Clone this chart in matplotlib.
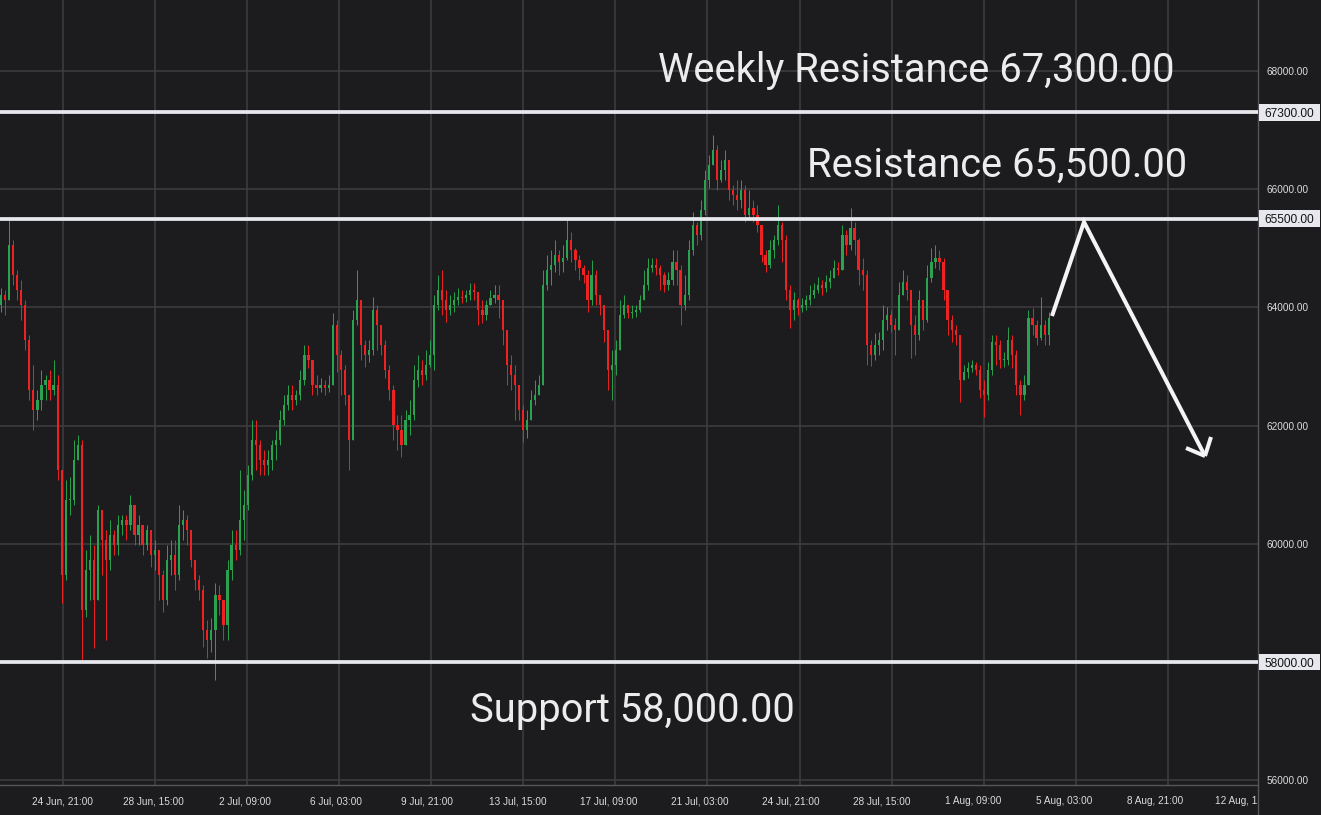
import matplotlib
matplotlib.use('Agg')
import numpy as np
import pandas as pd
import matplotlib.pyplot as plt
import matplotlib.dates as mdates
from matplotlib.patches import Rectangle
from matplotlib.lines import Line2D
from matplotlib.ticker import FixedLocator, FuncFormatter

# 4h candles, first one at 22 Jun 2024 08:00
start_time = '2024-06-22 08:00'
first_open = 64040

close = [64210, 64120, 65050, 64550, 64290, 64040, 63450, 62600, 62260, 62430,
         62690, 62770, 62600, 62690, 61250, 59470, 60740, 60740, 61420, 61670,
         58880, 59560, 59720, 59050, 60570, 60060, 59720, 60150, 59980, 60320,
         60400, 60320, 60660, 60150, 60320, 59980, 60230, 59810, 59890, 59470,
         59050, 59720, 59810, 59470, 60320, 60400, 60230, 59720, 59390, 59220,
         58540, 58370, 58540, 59130, 59050, 58630, 59560, 59980, 59890, 60400,
         60660, 61160, 61760, 61670, 61420, 61330, 61420, 61670, 61760, 62090,
         62350, 62520, 62430, 62520, 62770, 63190, 63110, 62690, 62640, 62690,
         62640, 62690, 63700, 63190, 62940, 62520, 61760, 63790, 64120, 63360,
         63190, 63280, 63960, 63700, 63360, 62940, 62600, 62010, 61920, 61670,
         62090, 62180, 62770, 62940, 62850, 63020, 63190, 64040, 64290, 64120,
         63960, 64040, 64120, 64170, 64160, 64210, 64290, 64260, 63960, 63870,
         64040, 64160, 64210, 64120, 63620, 63020, 62850, 62690, 62260, 61920,
         62090, 62430, 62520, 62690, 64380, 64630, 64720, 64890, 64770, 64830,
         65140, 64970, 64800, 64670, 64550, 64120, 64550, 64210, 64040, 63620,
         62940, 63020, 63280, 63870, 64040, 63900, 63920, 63960, 64120, 64380,
         64670, 64720, 64670, 64550, 64380, 64460, 64770, 64630, 64040, 64210,
         64970, 65390, 65220, 65650, 66150, 66410, 66660, 66150, 66320, 66490,
         65990, 65900, 65820, 65990, 65560, 65680, 65560, 65390, 64890, 64720,
         64970, 65140, 65390, 65140, 64290, 63960, 64120, 63990, 64040, 64120,
         64210, 64290, 64380, 64330, 64430, 64500, 64670, 64630, 65220, 65050,
         65340, 65140, 64630, 64550, 63360, 63190, 63360, 63450, 63790, 63870,
         63700, 63620, 64210, 64430, 64290, 63700, 63530, 64120, 63790, 64500,
         64770, 64830, 64770, 64290, 63790, 63620, 63530, 62770, 62910, 62970,
         63020, 62940, 62600, 62520, 62940, 63410, 63360, 63110, 63110, 63450,
         63190, 62690, 62520, 62690, 63820, 63700, 63480, 63700, 63530, 63820]

high = [64330, 64290, 65480, 65140, 64630, 64460, 64120, 63530, 63020, 62600,
        62940, 62850, 62940, 63110, 62850, 61250, 61080, 61130, 61760, 61840,
        61760, 59890, 60150, 59980, 60660, 60490, 60230, 60400, 60230, 60490,
        60490, 60490, 60820, 60660, 60490, 60320, 60320, 60230, 60060, 59890,
        59560, 59980, 60060, 60060, 60660, 60570, 60490, 60230, 59720, 59470,
        59300, 58710, 58740, 59340, 59300, 59050, 59720, 60230, 60230, 61250,
        60910, 61330, 62090, 62090, 61760, 61590, 61590, 61760, 61920, 62260,
        62520, 62690, 62690, 62600, 62940, 63360, 63360, 63020, 62850, 62800,
        62770, 62850, 63900, 63790, 63280, 63020, 62520, 63960, 64630, 64120,
        63450, 63450, 64170, 64040, 63700, 63450, 63020, 62690, 62180, 62180,
        62260, 62430, 63020, 63190, 63110, 63280, 63450, 64210, 64550, 64630,
        64290, 64210, 64260, 64330, 64290, 64290, 64410, 64410, 64210, 64120,
        64120, 64290, 64380, 64380, 64120, 63620, 63190, 63020, 62690, 62350,
        62260, 62600, 62770, 62850, 64630, 64890, 64970, 65140, 64970, 65050,
        65480, 65270, 65000, 64890, 64720, 64630, 64800, 64630, 64210, 63960,
        63450, 63280, 63450, 64120, 64210, 64040, 64040, 64040, 64210, 64630,
        64830, 64830, 64830, 64720, 64600, 64600, 64970, 64970, 64720, 64550,
        65140, 65610, 65440, 65820, 66320, 66580, 66920, 66750, 66490, 66660,
        66490, 66070, 66150, 66150, 66070, 65990, 65820, 65730, 65390, 64970,
        65140, 65220, 65730, 65440, 65220, 64380, 64260, 64160, 64160, 64210,
        64380, 64410, 64510, 64460, 64550, 64630, 64800, 64770, 65390, 65310,
        65680, 65440, 65170, 64830, 64630, 63450, 63570, 63580, 64040, 64010,
        63960, 63820, 64430, 64630, 64550, 64210, 63870, 64290, 64120, 64720,
        65000, 65050, 64970, 64830, 64290, 63870, 63700, 63450, 63020, 63080,
        63110, 63080, 63020, 62770, 63080, 63530, 63530, 63450, 63240, 63670,
        63530, 63280, 62770, 62850, 63960, 63990, 63790, 64170, 63790, 63920]

low = [63920, 63870, 64120, 64380, 64120, 63790, 63280, 62430, 61920, 62090,
       62260, 62430, 62430, 62520, 61080, 59000, 59390, 60490, 60660, 61420,
       58030, 58760, 59050, 58240, 59050, 59470, 58370, 59560, 59810, 59810,
       60150, 60060, 60230, 59980, 59980, 59810, 59890, 59610, 59560, 59050,
       58850, 58960, 59470, 59220, 59390, 60060, 59980, 59610, 59220, 59050,
       58250, 58070, 58170, 57690, 58790, 58370, 58370, 59390, 59720, 59810,
       60060, 60570, 61080, 61250, 61160, 61160, 61160, 61250, 61420, 61670,
       62010, 62260, 62260, 62350, 62430, 62690, 62970, 62520, 62520, 62570,
       62520, 62570, 62690, 62910, 62520, 62350, 61250, 61760, 63700, 63110,
       62990, 63080, 63190, 63280, 63190, 62800, 62430, 61760, 61590, 61470,
       61760, 61840, 62090, 62650, 62690, 62770, 62990, 62940, 63960, 63870,
       63750, 63870, 63920, 64040, 64070, 64090, 64120, 64120, 63700, 63740,
       63790, 64040, 64070, 63820, 63360, 62690, 62600, 62090, 62090, 61720,
       61790, 62180, 62350, 62520, 62690, 64290, 64380, 64600, 64550, 64600,
       64800, 64770, 64630, 64460, 64410, 63920, 64040, 64040, 63870, 63410,
       62600, 62430, 62850, 63280, 63820, 63820, 63820, 63840, 63920, 64120,
       64290, 64600, 64550, 64290, 64260, 64290, 64380, 64380, 63700, 63960,
       64120, 64890, 65050, 65140, 65560, 66020, 66410, 65990, 66120, 66150,
       65820, 65730, 65650, 65680, 65440, 65480, 65440, 65270, 64770, 64600,
       64670, 64830, 65050, 64770, 64120, 63650, 63790, 63870, 63920, 63960,
       64040, 64160, 64240, 64210, 64260, 64330, 64500, 64550, 64630, 64890,
       64970, 64890, 64380, 64290, 63020, 63010, 63110, 63190, 63280, 63620,
       63580, 63190, 63620, 64260, 64120, 63140, 63190, 63450, 63620, 63750,
       64430, 64670, 64630, 64120, 63530, 63410, 63360, 62400, 62770, 62800,
       62910, 62850, 62470, 62140, 62430, 62850, 63020, 62970, 62990, 63020,
       62970, 62520, 62180, 62430, 62690, 63530, 63360, 63450, 63360, 63360]

# horizontal levels
level_values = [67300, 65500, 58000]
level_texts = ['Weekly Resistance 67,300.00', 'Resistance 65,500.00', 'Support 58,000.00']

# axis ticks
ytick_values = [56000, 58000, 60000, 62000, 64000, 66000, 68000]
xtick_start = '2024-06-24 21:00'
xtick_count = 14

BG = '#1c1c1e'
GRID = '#3f3f42'
AXLINE = '#55555a'
TXT = '#dcdcdc'
LEVEL = '#e7e7ee'
UP = '#2ba24f'
DOWN = '#ef2121'

W, H = 1321, 815
AX_R = 1258   # right edge of plot area, px
AX_B = 785    # bottom edge of plot area, px

c = np.array(close, dtype=float)
hi = np.array(high, dtype=float)
lo = np.array(low, dtype=float)
o = np.r_[first_open, c[:-1]]
hi = np.maximum(hi, np.maximum(o, c))
lo = np.minimum(lo, np.minimum(o, c))
up = c >= o
cols = np.where(up, UP, DOWN)

times = pd.date_range(start_time, periods=len(c), freq='4h')
x = mdates.date2num(times)

fig = plt.figure(figsize=(W / 100, H / 100), dpi=100, facecolor=BG)
ax = fig.add_axes([0, (H - AX_B) / H, AX_R / W, AX_B / H])
ax.set_facecolor(BG)

# x range: 24 Jun 21:00 sits at 62.7 px, 1.0113 px per hour
t_ref = pd.Timestamp(xtick_start)
px_per_h = 1.0113
x_left = mdates.date2num(t_ref - pd.Timedelta(hours=62.7 / px_per_h))
x_right = mdates.date2num(t_ref + pd.Timedelta(hours=(AX_R - 62.7) / px_per_h))
ax.set_xlim(x_left, x_right)
ax.set_ylim(55919, 69201)

# vertical grid lines (drawn where the reference has them)
for k in range(13):
    px = 62.7 + 92.11 * k
    ax.axvline(x_left + px / AX_R * (x_right - x_left), color=GRID, lw=1.1, zorder=1)

ax.yaxis.set_major_locator(FixedLocator(ytick_values))
ax.grid(axis='y', color=GRID, lw=1.1, zorder=1)
ax.set_axisbelow(True)

# candles
body_w = 4 / 24 * 0.55
ax.vlines(x, lo, hi, colors=cols, lw=0.7, zorder=3)
ax.bar(x, np.maximum(np.abs(c - o), 15), bottom=np.minimum(o, c), width=body_w,
       color=cols, linewidth=0, zorder=3)

# level lines
for v in level_values:
    ax.axhline(v, color=LEVEL, lw=2.7, zorder=4)

# x ticks
xticks = pd.date_range(xtick_start, periods=xtick_count, freq='90h')
ax.xaxis.set_major_locator(FixedLocator(mdates.date2num(xticks)))
ax.set_xticklabels([f"{t.day} {t.strftime('%b, %H:%M')}" for t in xticks])
ax.tick_params(axis='x', length=0, pad=8, labelsize=7.2, labelcolor=TXT)
for lbl in ax.get_xticklabels():
    lbl.set_fontfamily(['Liberation Sans', 'DejaVu Sans'])

# y ticks on the right
ax.yaxis.tick_right()
ax.yaxis.set_major_formatter(FuncFormatter(lambda v, _: '' if v in level_values else f'{v:.2f}'))
ax.tick_params(axis='y', length=0, pad=6, labelsize=7.2, labelcolor=TXT)
for lbl in ax.get_yticklabels():
    lbl.set_fontfamily(['Liberation Sans', 'DejaVu Sans'])

for side in ['left', 'top']:
    ax.spines[side].set_visible(False)
for side in ['right', 'bottom']:
    ax.spines[side].set_color(AXLINE)
    ax.spines[side].set_linewidth(1)

# boxed price labels for the levels
ytrans = ax.get_yaxis_transform()
for v in level_values:
    ax.add_patch(Rectangle((1259 / AX_R, v - 140), 61 / AX_R, 280, transform=ytrans,
                           facecolor=LEVEL, edgecolor='none', clip_on=False, zorder=6))
    ax.text(1289.5 / AX_R, v, f'{v:.2f}', transform=ytrans, ha='center',
            va='center_baseline', fontsize=8.6, color='#131313', clip_on=False,
            family=['Liberation Sans', 'DejaVu Sans'], zorder=7)

# big annotations
text_pos = [(916.5, 82), (997, 177), (632, 722)]
for s, (px, py) in zip(level_texts, text_pos):
    ax.text(px / AX_R, (AX_B - py) / AX_B, s, transform=ax.transAxes, ha='center',
            va='baseline', fontsize=28.7, color='#ececec',
            family=['Roboto', 'DejaVu Sans'], zorder=8)

# drawn arrow
def axpt(px, py):
    return px / AX_R, (AX_B - py) / AX_B

path = [axpt(1052, 316), axpt(1084, 222), axpt(1205, 456)]
ax.plot([p[0] for p in path], [p[1] for p in path], transform=ax.transAxes,
        color='#f4f4f4', lw=2.9, solid_joinstyle='miter', solid_capstyle='butt',
        clip_on=False, zorder=9)
for end in [axpt(1186, 448), axpt(1211, 437)]:
    tip = axpt(1205, 456)
    ax.plot([end[0], tip[0]], [end[1], tip[1]], transform=ax.transAxes,
            color='#f4f4f4', lw=2.9, solid_capstyle='butt', clip_on=False, zorder=9)

# price scale panel hides the x label that runs under it
fig.add_artist(Rectangle((AX_R / W, 0), 1, (H - AX_B) / H, transform=fig.transFigure,
                         facecolor=BG, edgecolor='none', zorder=10))
fig.add_artist(Line2D([AX_R / W, AX_R / W], [0, (H - AX_B) / H], transform=fig.transFigure,
                      color=AXLINE, lw=1, zorder=11))

fig.savefig('out.png', dpi=100, facecolor=BG)
